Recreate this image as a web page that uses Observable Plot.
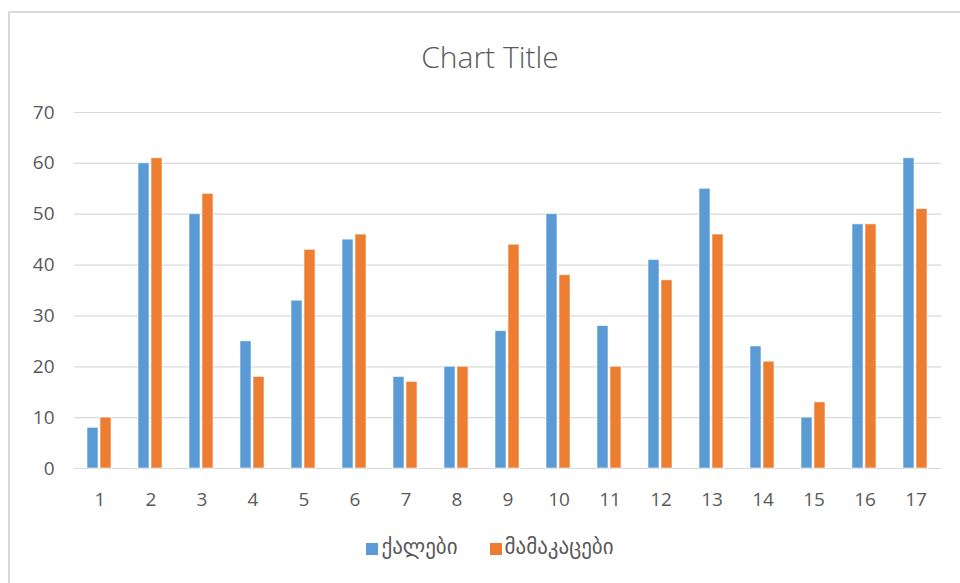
<!DOCTYPE html>
<html>
<head>
<meta charset="utf-8">
<script src="https://cdn.jsdelivr.net/npm/d3@7"></script>
<script src="https://cdn.jsdelivr.net/npm/@observablehq/plot@0.6"></script>
<style>
  html, body { margin: 0; padding: 0; background: #fff; width: 960px; height: 583px; overflow: hidden; }
  #frame { position: absolute; left: 8px; top: 11px; width: 1000px; height: 640px; border: 2px solid #d9d9d9; box-sizing: border-box; }
  #title { position: absolute; left: 0; width: 980px; top: 36px; text-align: center; font-family: "Open Sans", "Liberation Sans", sans-serif; font-weight: 300; font-size: 30px; color: #595959; }
  #chart { position: absolute; left: 0; top: 90px; }
  #legend { position: absolute; left: 0; width: 980px; top: 535px; text-align: center; font-family: "DejaVu Sans", "Noto Sans", sans-serif; font-size: 21px; color: #595959; }
  .sw { display: inline-block; width: 12px; height: 12px; margin-right: 3px; vertical-align: -1px; }
  .item { display: inline-block; margin: 0 16px; }
</style>
</head>
<body>
<div id="frame"></div>
<div id="title">Chart Title</div>
<div id="chart"></div>
<div id="legend"></div>
<script>
const categories = ["1","2","3","4","5","6","7","8","9","10","11","12","13","14","15","16","17"];
const seriesNames = ["ქალები", "მამაკაცები"];
const women = [8, 60, 50, 25, 33, 45, 18, 20, 27, 50, 28, 41, 55, 24, 10, 48, 61];
const men   = [10, 61, 54, 18, 43, 46, 17, 20, 44, 38, 20, 37, 46, 21, 13, 48, 51];
const colors = ["#5b9bd5", "#ed7d31"];
const yTicks = [0, 10, 20, 30, 40, 50, 60, 70];

const data = [];
categories.forEach((c, i) => {
  data.push({cat: c, series: seriesNames[0], value: women[i]});
  data.push({cat: c, series: seriesNames[1], value: men[i]});
});

const plot = Plot.plot({
  width: 960,
  height: 423,
  marginLeft: 72,
  marginRight: 17,
  marginTop: 22,
  marginBottom: 45,
  style: {fontFamily: "'Open Sans', 'Liberation Sans', sans-serif", fontSize: "19px", color: "#595959", background: "transparent"},
  fx: {domain: categories, padding: 0, label: null},
  x: {domain: seriesNames, paddingInner: 0.15, paddingOuter: 0.95, axis: null},
  y: {domain: [0, 70], ticks: yTicks, label: null},
  color: {domain: seriesNames, range: colors},
  marks: [
    Plot.gridY(yTicks, {stroke: "#d9d9d9", strokeOpacity: 1, strokeWidth: 1.2}),
    Plot.axisY(yTicks, {tickSize: 0, tickPadding: 20, label: null, fontSize: 19, fill: "#595959"}),
    Plot.axisFx({anchor: "bottom", tickSize: 0, tickPadding: 24, label: null, fontSize: 19, fill: "#595959"}),
    Plot.barY(data, {fx: "cat", x: "series", y: "value", fill: "series", stroke: "white", strokeWidth: 0.8, strokeOpacity: 0.7})
  ]
});
document.getElementById("chart").appendChild(plot);

const legend = document.getElementById("legend");
seriesNames.forEach((s, i) => {
  const item = document.createElement("span");
  item.className = "item";
  const sw = document.createElement("span");
  sw.className = "sw";
  sw.style.background = colors[i];
  item.appendChild(sw);
  item.appendChild(document.createTextNode(s));
  legend.appendChild(item);
});
</script>
</body>
</html>
